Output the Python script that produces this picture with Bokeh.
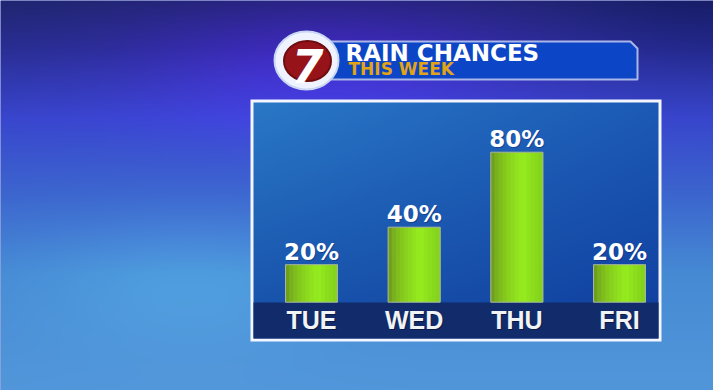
import numpy as np
from bokeh.plotting import figure
from bokeh.models import Range1d
from bokeh.core.properties import value
from bokeh.embed import file_html
from bokeh.resources import INLINE

# ---------------- data ----------------
days = ["TUE", "WED", "THU", "FRI"]
chances = [20, 40, 80, 20]
pct_labels = [f"{c}%" for c in chances]
title_text = "RAIN CHANCES"
subtitle_text = "THIS WEEK"
logo_text = "7"

# ---------------- layout helpers (screen px of the 713x390 window) ----------------
W, H = 713, 390
OX, OY = 0, 0
X0, DX = 311.0, 102.67   # screen x of first day centre, px per day
Y0, DY = 301.7, 1.875    # screen y of 0 %, px per percent


def X(sx):
    return (sx - X0) / DX


def Y(sy):
    return (Y0 - sy) / DY


p = figure(width=W, height=H,
           x_range=Range1d(X(OX), X(OX + W)), y_range=Range1d(Y(OY + H), Y(OY)),
           x_axis_location=None, y_axis_location=None,
           output_backend="svg", toolbar_location=None, min_border=0,
           outline_line_color=None)
p.grid.visible = False
p.background_fill_color = "#3a4cc0"
p.border_fill_color = "#3a4cc0"


def to_rgba32(arr):
    arr = np.clip(arr, 0, 255).astype(np.uint8)
    h, w, _ = arr.shape
    a = np.ascontiguousarray(arr[::-1])
    return a.view(np.uint32).reshape(h, w)


# ---------------- background gradient ----------------
sy = np.linspace(OY, OY + H, H)
sx = np.linspace(OX, OX + W, W)
t = sy / 390.0
stops = [0.0, 0.12, 0.3, 0.5, 0.7, 1.0]
cols = np.array([(32, 38, 112), (40, 46, 144), (56, 70, 204), (60, 102, 206), (70, 138, 212), (82, 150, 218)], float)
bg = np.zeros((H, W, 4))
for c in range(3):
    col = np.interp(t, stops, cols[:, c])
    bg[:, :, c] = col[:, None]
gx, gy = np.meshgrid(sx, sy)
purple = np.exp(-(((gx - 330) / 200) ** 2 + ((gy - 60) / 70) ** 2))
bg[:, :, 0] += 22 * purple
bg[:, :, 1] += -4 * purple
bg[:, :, 2] += 45 * purple
glow = np.exp(-(((gx - 190) / 150) ** 2 + ((gy - 280) / 70) ** 2))
bg[:, :, 0] += 8 * glow
bg[:, :, 1] += 18 * glow
bg[:, :, 2] += 10 * glow
darkr = np.exp(-(((gx - 713) / 120) ** 2 + ((gy - 0) / 70) ** 2))
bg[:, :, :3] -= 8 * darkr[:, :, None]
bg[:, :, 3] = 255
p.image_rgba(image=[to_rgba32(bg)], x=X(OX), y=Y(OY + H), dw=X(OX + W) - X(OX), dh=Y(OY) - Y(OY + H))

# ---------------- chart panel ----------------
p.quad(left=X(250), right=X(661), bottom=Y(341), top=Y(99), fill_color="#f4f6ff", line_color=None)
pw, ph = 405, 236
u = np.linspace(0, 1, pw)[None, :, None]
v = np.linspace(0, 1, ph)[:, None, None]
TL = np.array([42, 120, 198]); TR = np.array([28, 90, 182])
BL = np.array([22, 78, 168]); BR = np.array([16, 62, 158])
pan = (TL * (1 - u) * (1 - v) + TR * u * (1 - v) + BL * (1 - u) * v + BR * u * v)
pan = np.concatenate([pan, np.full((ph, pw, 1), 255.0)], axis=2)
p.image_rgba(image=[to_rgba32(pan)], x=X(253), y=Y(338), dw=X(658) - X(253), dh=Y(102) - Y(338))
p.quad(left=X(253), right=X(658), bottom=Y(338), top=Y(302), fill_color="#112b6b", line_color=None)

# ---------------- bars (horizontal green gradient) ----------------
idx = list(range(len(days)))
bar_w = 52
n_strips = 13
left_c = np.array([100, 138, 28]); peak_c = np.array([150, 236, 30]); right_c = np.array([130, 208, 28])
for k in range(n_strips):
    f = (k + 0.5) / n_strips
    if f < 0.62:
        cc = left_c + (peak_c - left_c) * (f / 0.62) ** 0.55
    else:
        cc = peak_c + (right_c - peak_c) * ((f - 0.62) / 0.38)
    colr = "#%02x%02x%02x" % tuple(int(round(x)) for x in cc)
    off = (-bar_w / 2 + (k + 0.5) * bar_w / n_strips) / DX
    p.vbar(x=[i + off for i in idx], top=chances, bottom=0, width=(bar_w / n_strips + 0.8) / DX,
           fill_color=colr, line_color=None)
p.vbar(x=idx, top=chances, bottom=0, width=bar_w / DX, fill_color=None, line_color="#a8b4a0", line_width=1)

# value labels
p.text(x=idx, y=chances, text=pct_labels, text_font=value("DejaVu Sans"), text_font_style="bold",
       text_font_size="23px", text_color="#0a2466", text_alpha=0.45, text_align="center",
       text_baseline="middle", x_offset=1, y_offset=-12)
p.text(x=idx, y=chances, text=pct_labels, text_font=value("DejaVu Sans"), text_font_style="bold",
       text_font_size="23px", text_color="#ffffff", text_align="center",
       text_baseline="middle", y_offset=-13)

# day labels
day_y = [Y(319.5)] * len(days)
p.text(x=idx, y=day_y, text=days, text_font=value("Liberation Sans"), text_font_style="bold",
       text_font_size="25px", text_color="#050f30", text_alpha=0.6, text_align="center",
       text_baseline="middle", x_offset=1, y_offset=1)
p.text(x=idx, y=day_y, text=days, text_font=value("Liberation Sans"), text_font_style="bold",
       text_font_size="25px", text_color="#f2f3f5", text_align="center", text_baseline="middle")

# ---------------- header banner ----------------
bx = [X(328), X(630), X(637), X(637), X(328)]
by = [Y(41), Y(41), Y(48), Y(79), Y(79)]
p.patch(x=bx, y=by, fill_color="#0c45c6", line_color="#a9b6ea", line_width=2)
p.text(x=[X(345)], y=[Y(52)], text=[title_text], text_font=value("DejaVu Sans"), text_font_style="bold",
       text_font_size="23px", text_color="#ffffff", text_align="left", text_baseline="middle")
p.text(x=[X(348)], y=[Y(68.5)], text=[subtitle_text], text_font=value("DejaVu Sans"), text_font_style="bold",
       text_font_size="17px", text_color="#e2a416", text_align="left", text_baseline="middle")

# logo
p.ellipse(x=[X(306)], y=[Y(60)], width=64, height=58, width_units="screen", height_units="screen",
          fill_color="#eef3ff", line_color="#c9d6f5", line_width=2)
p.ellipse(x=[X(307)], y=[Y(60.5)], width=47, height=40, width_units="screen", height_units="screen",
          fill_color="#951319", line_color="#6e0c10", line_width=2)
p.text(x=[X(307)], y=[Y(65)], text=[logo_text], text_font=value("DejaVu Sans"), text_font_style="bold italic",
       text_font_size="46px", text_color="#ffffff", text_align="center", text_baseline="middle")

open("out.html", "w").write(file_html(p, INLINE))
